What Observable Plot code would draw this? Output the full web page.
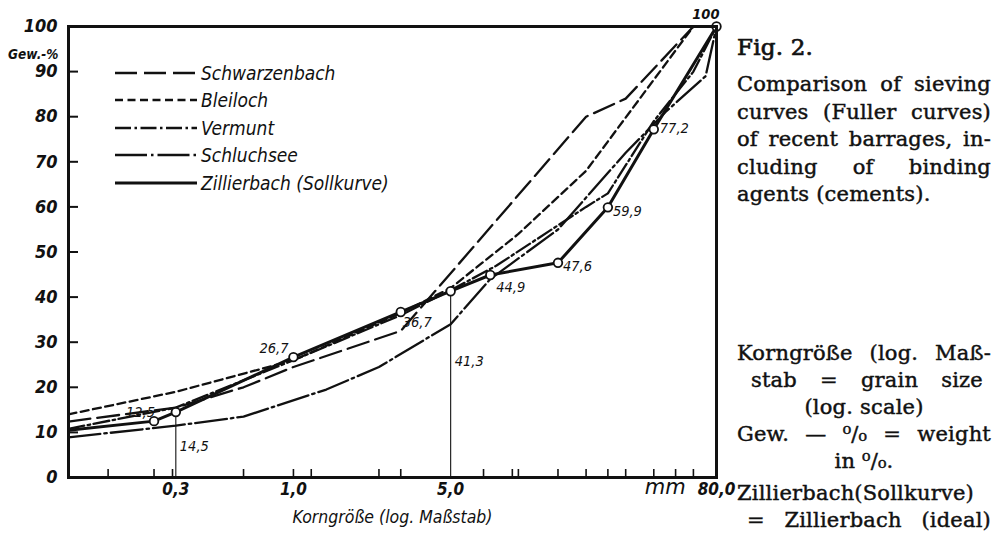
<!DOCTYPE html>
<html>
<head>
<meta charset="utf-8">
<script src="https://cdn.jsdelivr.net/npm/d3@7"></script>
<script src="https://cdn.jsdelivr.net/npm/@observablehq/plot@0.6"></script>
<style>
  html, body { margin: 0; padding: 0; background: #fff; }
  #page { position: relative; width: 994px; height: 533px; overflow: hidden; background: #fff; }
  #chart { position: absolute; left: 0; top: 0; }
  #legend { position: absolute; left: 0; top: 0; pointer-events: none; }
  .notes { position: absolute; left: 737px; width: 254px; font-family: "DejaVu Serif", "Liberation Serif", serif;
           font-size: 21px; color: #111; -webkit-text-stroke: 0.45px #111; letter-spacing: 0.2px; }
  .notes div { white-space: nowrap; }
  .b1 div { height: 27.5px; line-height: 27.5px; }
  .b2 div { height: 27px; line-height: 27px; }
  .j { text-align: justify; text-align-last: justify; }
  .c { text-align: center; }
  .l { text-align: left; }
</style>
</head>
<body>
<div id="page">
  <div id="chart"></div>
  <svg id="legend" width="730" height="533"></svg>
  <div class="notes b1" style="top:32px">
    <div style="font-size:23px;height:39px;line-height:30px;-webkit-text-stroke:0.7px #111">Fig. 2.</div>
    <div class="j">Comparison of sieving</div>
    <div class="j">curves (Fuller curves)</div>
    <div class="j">of recent barrages, in-</div>
    <div class="j">cluding of binding</div>
    <div class="l">agents (cements).</div>
  </div>
  <div class="notes b2" style="top:340px">
    <div class="j">Korngröße (log. Maß-</div>
    <div class="j" style="padding:0 8px 0 14px">stab = grain size</div>
    <div class="c">(log. scale)</div>
    <div class="j">Gew. — ⁰/₀ = weight</div>
    <div class="c">in ⁰/₀.</div>
    <div class="j" style="margin-top:5px">Zillierbach(Sollkurve)</div>
    <div class="j" style="padding-left:10px">= Zillierbach (ideal)</div>
  </div>
</div>
<script>
// ---- data ----
const yTicks = [0, 10, 20, 30, 40, 50, 60, 70, 80, 90, 100];
const xMinorTicks = [0.15, 0.24, 0.29, 0.6, 1, 1.2, 2.4, 3, 7, 9.4, 10, 15, 20, 25, 30, 40, 50, 60];
const xLabelValues = [0.3, 1, 5, 80];
const xLabelTexts = ["0,3", "1,0", "5,0", "80,0"];
const unitLabelValue = 45;
const unitLabelText = "mm";

const seriesNames = ["Schwarzenbach", "Bleiloch", "Vermunt", "Schluchsee", "Zillierbach (Sollkurve)"];

const schwarzenbachSize = [0.1, 0.3, 0.6, 1, 3, 20, 30, 60];
const schwarzenbachPct  = [12.4, 15.5, 20, 24.5, 32.5, 80, 84, 100];

const bleilochSize = [0.1, 0.3, 1, 3, 5, 10, 20, 60];
const bleilochPct  = [14, 19, 26, 36.5, 42, 54, 68, 100];

const vermuntSize = [0.1, 0.3, 1, 3, 5, 8, 20, 25, 40, 60, 80];
const vermuntPct  = [10.8, 15.5, 26, 36, 41.5, 47, 60, 63, 79, 90, 100];

const schluchseeSize = [0.1, 0.3, 0.6, 1.4, 2.4, 5, 7.5, 15, 30, 45, 68, 80];
const schluchseePct  = [8.9, 11.5, 13.5, 19.5, 24.5, 34, 44, 55, 72, 81, 89, 100];

const zillierbachSize = [0.1, 0.24, 0.3, 1, 3, 5, 7.5, 15, 25, 40, 80];
const zillierbachPct  = [10.5, 12.5, 14.5, 26.7, 36.7, 41.3, 44.9, 47.6, 59.9, 77.2, 100];

// ---- styling ----
const F_SANS = '"DejaVu Sans Condensed", "DejaVu Sans", "Liberation Sans Narrow", sans-serif';
const dashes = ["22,7", "8,4.5", "16,3.5,2.5,3.5", "32,4,2.5,4", null];
const widths = [2.3, 2.3, 2.3, 2.3, 3];

const toRows = (xs, ys) => xs.map((x, i) => ({x, y: ys[i]}));
const series = [
  toRows(schwarzenbachSize, schwarzenbachPct),
  toRows(bleilochSize, bleilochPct),
  toRows(vermuntSize, vermuntPct),
  toRows(schluchseeSize, schluchseePct),
  toRows(zillierbachSize, zillierbachPct)
];
const zill = series[4];
const marked = zill.slice(1);
const fmt = v => String(v).replace(".", ",");
const dropLines = [zill[2], zill[5]];
const xLabels = xLabelValues.map((x, i) => ({x, text: xLabelTexts[i]}));

// label placement relative to its point
const place = [
  {a: "end",   dx: 1,  dy: -9,  b: false},
  {a: "start", dx: 4,  dy: 34,  b: false},
  {a: "end",   dx: -5, dy: -9,  b: false},
  {a: "start", dx: 2,  dy: 10,  b: false},
  {a: "start", dx: 4,  dy: 70,  b: false},
  {a: "start", dx: 6,  dy: 12,  b: false},
  {a: "start", dx: 5,  dy: 4,   b: false},
  {a: "start", dx: 5,  dy: 4,   b: false},
  {a: "start", dx: 6,  dy: -1,  b: false},
  {a: "end",   dx: 3,  dy: -12, b: true}
];

const labelMarks = marked.map((d, i) => Plot.text([d], {
  x: "x", y: "y", text: dd => fmt(dd.y), textAnchor: place[i].a, dx: place[i].dx, dy: place[i].dy,
  fontSize: 14.5, fontStyle: "italic", fontWeight: place[i].b ? "bold" : "normal",
  fontFamily: F_SANS, fill: "#111"
}));

const lineMarks = series.map((rows, i) => Plot.line(rows, {
  x: "x", y: "y", stroke: "#111", strokeWidth: widths[i], strokeDasharray: dashes[i],
  strokeLinejoin: "round"
}));

const chart = Plot.plot({
  width: 730,
  height: 533,
  marginLeft: 68,
  marginRight: 14,
  marginTop: 26,
  marginBottom: 56,
  x: {type: "log", domain: [0.1, 76], clamp: true},
  y: {domain: [0, 100]},
  style: {fontFamily: F_SANS, background: "transparent", color: "#111", overflow: "visible"},
  marks: [
    Plot.ruleX(dropLines, {x: "x", y1: 0, y2: "y", stroke: "#111", strokeWidth: 1.1}),
    ...lineMarks,
    Plot.dot(marked, {x: "x", y: "y", r: 4.3, fill: "white", stroke: "#111", strokeWidth: 1.8}),
    ...labelMarks,
    Plot.frame({stroke: "#111", strokeWidth: 3}),
    Plot.axisY(yTicks, {tickSize: -10, tickPadding: 21, strokeWidth: 2, fontSize: 18, fontWeight: "bold",
      fontStyle: "italic", label: null, tickFormat: d => String(d)}),
    Plot.text(["Gew.-%"], {frameAnchor: "top-left", textAnchor: "end", dx: -10, dy: 23,
      fontSize: 13.5, fontWeight: "bold", fontStyle: "italic", fill: "#111"}),
    Plot.axisX(xMinorTicks, {tickSize: -8, strokeWidth: 1.6, tickFormat: () => "", label: null}),
    Plot.text(xLabels, {x: "x", text: "text", frameAnchor: "bottom", dy: 17, fontSize: 17,
      fontWeight: "bold", fontStyle: "italic", fill: "#111"}),
    Plot.text([unitLabelText], {x: unitLabelValue, frameAnchor: "bottom", dy: 16,
      fontSize: 21, fontStyle: "italic", fill: "#111", fontFamily: '"DejaVu Sans", sans-serif'}),
    Plot.text(["Korngröße (log. Maßstab)"], {frameAnchor: "bottom", dx: 0, dy: 45,
      fontSize: 17.5, fontStyle: "italic", fill: "#111"})
  ]
});
document.getElementById("chart").appendChild(chart);

// legend (inside the frame, upper-left)
const legend = d3.select("#legend");
const rowsY = [73, 100, 128, 155, 183];
seriesNames.forEach((name, i) => {
  legend.append("line").attr("x1", 115).attr("x2", 197).attr("y1", rowsY[i]).attr("y2", rowsY[i])
    .attr("stroke", "#111").attr("stroke-width", widths[i] + 0.2)
    .attr("stroke-dasharray", dashes[i]);
  legend.append("text").attr("x", 201).attr("y", rowsY[i]).attr("dy", "0.35em")
    .attr("font-family", F_SANS).attr("font-size", 19).attr("font-style", "italic")
    .attr("fill", "#111").text(name);
});
</script>
</body>
</html>
